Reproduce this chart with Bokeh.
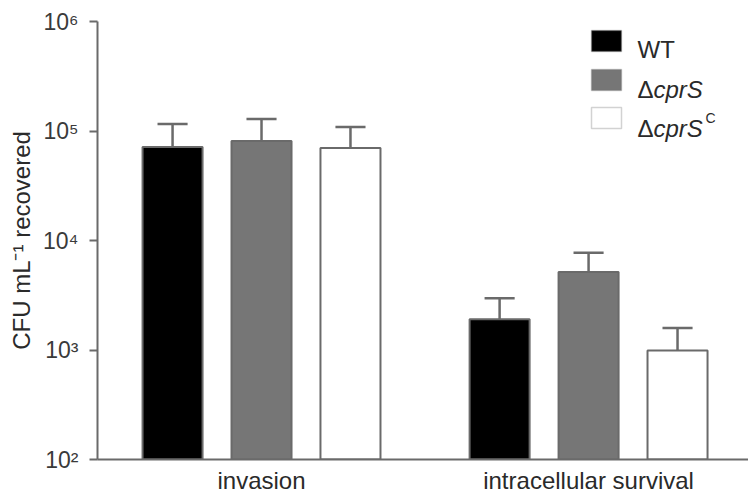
import math
from bokeh.plotting import figure
from bokeh.models import (Range1d, ColumnDataSource, Label, BoxAnnotation,
                          FixedTicker, CustomJSTickFormatter)
from bokeh.embed import file_html
from bokeh.resources import INLINE

# ---- data ----
groups = ["invasion", "intracellular survival"]
series_names = ["WT", "ΔcprS", "ΔcprSC"]
wt_mean = [71600, 1910]
wt_err = [44400, 1060]
cprs_mean = [81100, 5150]
cprs_err = [47400, 2580]
comp_mean = [70000, 990]
comp_err = [38700, 595]
y_ticks = [100, 1000, 10000, 100000, 1000000]

FONT = "Liberation Sans"
AXIS_GRAY = "#6a6a6a"
TEXT = "#2a2a2a"

group_pos = [i + 0.5 for i in range(len(groups))]

p = figure(x_range=Range1d(-0.0015, 1.989), y_axis_type="log", y_range=Range1d(100, 1e6),
           width=748, height=496, output_backend="svg", toolbar_location=None,
           min_border_left=97, min_border_right=0, min_border_top=21, min_border_bottom=35)
p.outline_line_color = None
p.xgrid.grid_line_color = None
p.ygrid.grid_line_color = None
p.background_fill_color = "white"
p.border_fill_color = "white"

offsets = [-0.272, 0.0, 0.272]
fills = ["#000000", "#767676", "#ffffff"]
means = [wt_mean, cprs_mean, comp_mean]
errs = [wt_err, cprs_err, comp_err]
bar_w = 0.1835
cap_half = 0.046

for mean, err, off, fill in zip(means, errs, offsets, fills):
    xs = [g + off for g in group_pos]
    src = ColumnDataSource(dict(x=xs, xl=[x - cap_half for x in xs], xr=[x + cap_half for x in xs],
                                mean=mean, upper=[m + e for m, e in zip(mean, err)]))
    p.vbar(x="x", top="mean", bottom=100, width=bar_w, source=src,
           fill_color=fill, line_color=AXIS_GRAY, line_width=2)
    p.segment(x0="x", y0="mean", x1="x", y1="upper", source=src,
              line_color=AXIS_GRAY, line_width=2.5)
    p.segment(x0="xl", y0="upper", x1="xr", y1="upper", source=src,
              line_color=AXIS_GRAY, line_width=2.5)

# ---- x axis ----
xa = p.xaxis[0]
xa.ticker = FixedTicker(ticks=group_pos)
xa.formatter = CustomJSTickFormatter(args=dict(names=groups),
                                     code="return names[Math.round(tick - 0.5)]")
xa.axis_line_color = AXIS_GRAY
xa.axis_line_width = 2
xa.major_tick_line_color = None
xa.major_tick_out = 0
xa.major_tick_in = 0
xa.minor_tick_line_color = None
xa.major_label_text_font = FONT
xa.major_label_text_font_size = "24px"
xa.major_label_text_color = TEXT
xa.major_label_standoff = 7

# ---- y axis ----
ya = p.yaxis[0]
ya.ticker = FixedTicker(ticks=y_ticks)
ya.formatter = CustomJSTickFormatter(
    args=dict(sup="⁰¹²³⁴⁵⁶⁷⁸⁹"),
    code="const e = Math.round(Math.log10(tick)); return '10' + sup[e];")
ya.axis_line_color = AXIS_GRAY
ya.axis_line_width = 2
ya.major_tick_line_color = AXIS_GRAY
ya.major_tick_line_width = 2
ya.major_tick_in = 0
ya.major_tick_out = 8
ya.minor_tick_line_color = None
ya.major_label_text_font = FONT
ya.major_label_text_font_size = "23px"
ya.major_label_text_color = "#3a3a3a"
ya.major_label_standoff = 11
ya.axis_label = "CFU mL⁻¹ recovered"
ya.axis_label_text_font = FONT
ya.axis_label_text_font_size = "24px"
ya.axis_label_text_font_style = "normal"
ya.axis_label_text_color = TEXT
ya.axis_label_standoff = 5

# ---- legend ----
sw_tops = [429, 390, 352]
text_base = [410, 370, 331]
for fill, top, base, name in zip(fills, sw_tops, text_base, series_names):
    p.add_layout(BoxAnnotation(left=494, right=524, top=top, bottom=top - 21,
                               left_units="screen", right_units="screen",
                               top_units="screen", bottom_units="screen",
                               fill_color=fill, fill_alpha=1.0,
                               line_color=AXIS_GRAY, line_width=1.5, level="overlay"))
    if name == "WT":
        p.add_layout(Label(x=540, y=base, x_units="screen", y_units="screen", text="WT",
                           text_font=FONT, text_font_size="24px", text_color=TEXT,
                           text_baseline="alphabetic"))
    else:
        p.add_layout(Label(x=540, y=base, x_units="screen", y_units="screen", text="Δ",
                           text_font=FONT, text_font_size="24px", text_color=TEXT,
                           text_baseline="alphabetic"))
        p.add_layout(Label(x=556, y=base, x_units="screen", y_units="screen", text="cprS",
                           text_font=FONT, text_font_size="24px", text_color=TEXT,
                           text_font_style="italic", text_baseline="alphabetic"))
        if name.endswith("C"):
            p.add_layout(Label(x=608, y=base + 10.5, x_units="screen", y_units="screen",
                               text="C", text_font=FONT, text_font_size="14px",
                               text_color=TEXT, text_baseline="alphabetic"))

open("out.html", "w").write(file_html(p, INLINE))
